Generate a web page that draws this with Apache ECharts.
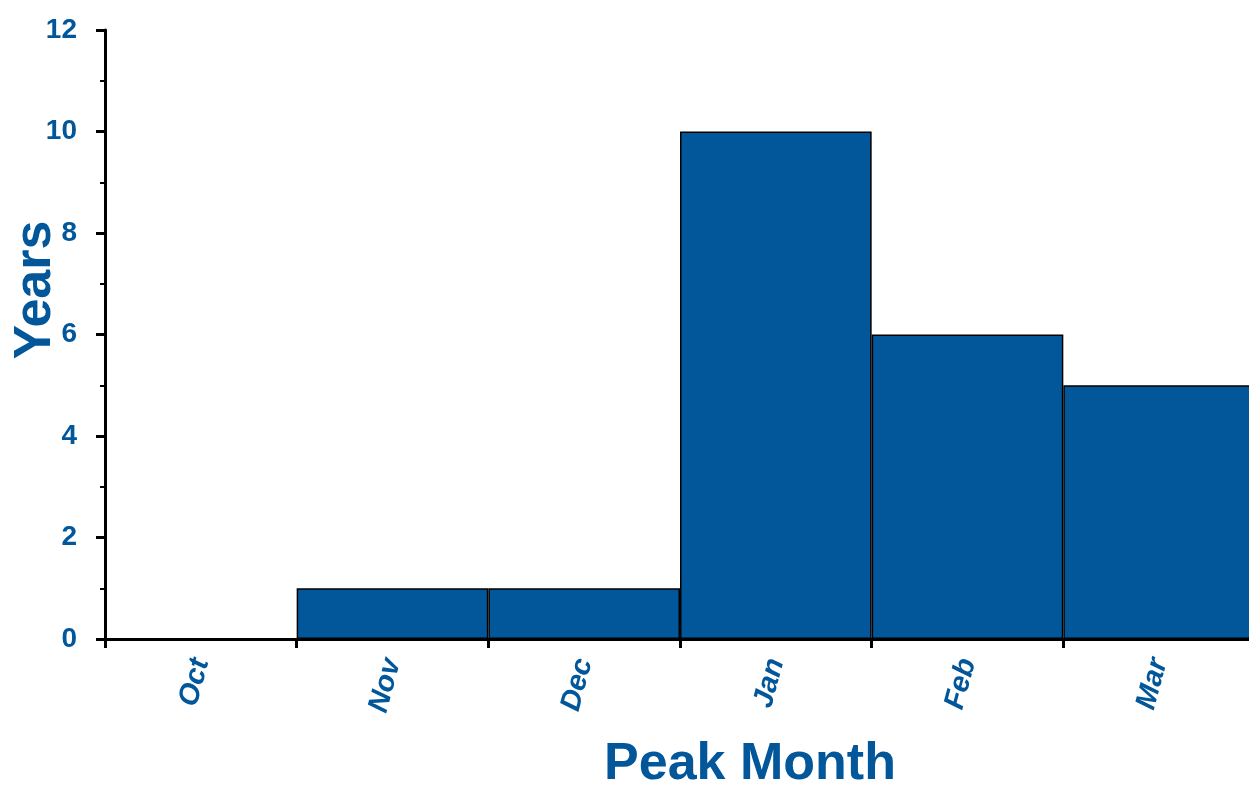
<!DOCTYPE html>
<html>
<head>
<meta charset="utf-8">
<script src="https://cdn.jsdelivr.net/npm/echarts@6/dist/echarts.min.js"></script>
<style>
html,body{margin:0;padding:0;background:#fff;}
#chart{width:1249px;height:789px;}
</style>
</head>
<body>
<div id="chart"></div>
<script>
// peak month histogram
var months = ['Oct', 'Nov', 'Dec', 'Jan', 'Feb', 'Mar'];
var years = [0, 1, 1, 10, 6, 5];

var blue = '#02569a';
var chart = echarts.init(document.getElementById('chart'));
var option = {
    animation: false,
    grid: { left: 105, top: 30, width: 1150, height: 609, outerBoundsMode: 'none', containLabel: false },
    // y axis title drawn by hand so it can sit over the tick labels like the original
    graphic: [{
        type: 'text',
        x: 36,
        y: 290,
        rotation: Math.PI / 2,
        style: {
            text: 'Years',
            fill: blue,
            font: 'bold 52px "Liberation Sans"',
            align: 'center',
            verticalAlign: 'middle'
        }
    }],
    xAxis: {
        type: 'category',
        data: months,
        name: 'Peak Month',
        nameLocation: 'middle',
        nameGap: 100,
        nameTextStyle: { color: blue, fontSize: 52, fontWeight: 'bold', fontFamily: 'Liberation Sans', padding: [0, 0, 0, 140] },
        axisLine: { lineStyle: { color: '#000', width: 3 } },
        axisTick: { show: true, length: 9, lineStyle: { color: '#000', width: 3 } },
        axisLabel: { color: blue, fontSize: 29, fontWeight: 'bold', fontStyle: 'italic', fontFamily: 'Liberation Sans', rotate: 75, margin: 20 }
    },
    yAxis: {
        type: 'value',
        min: 0,
        max: 12,
        interval: 2,
        splitLine: { show: false },
        axisLine: { show: true, lineStyle: { color: '#000', width: 3 } },
        axisTick: { show: true, length: 9, lineStyle: { color: '#000', width: 3 } },
        minorTick: { show: true, splitNumber: 2, length: 5, lineStyle: { color: '#000', width: 2 } },
        axisLabel: { color: blue, fontSize: 28, fontWeight: 'bold', fontFamily: 'Liberation Sans', margin: 28 }
    },
    series: [{
        type: 'bar',
        data: years,
        barWidth: '100%',
        itemStyle: { color: blue, borderColor: '#000', borderWidth: 1.5 }
    }]
};
chart.setOption(option);
</script>
</body>
</html>
